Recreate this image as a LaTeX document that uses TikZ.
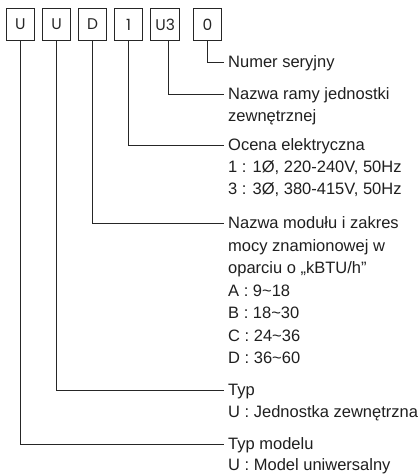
\documentclass[tikz,border=0pt]{standalone}
\usepackage{fontspec}
\setmainfont{Liberation Sans}
\newfontfamily\boxfont{Poppins}
\begin{document}
\begin{tikzpicture}[x=1pt,y=-1pt,
  codebox/.style={draw=black!85, line width=1pt, minimum width=28.5pt, minimum height=32.4pt, inner sep=0pt, font=\boxfont\fontsize{15.5}{16}\selectfont, text=black!85},
  conn/.style={draw=black!85, line width=1pt},
  lbl/.style={anchor=west, inner sep=0pt, text height=11.8pt, text depth=0pt, font=\fontsize{16.5}{20}\selectfont, text=black!88}]
\useasboundingbox (0,0) rectangle (420,474);
% boxes
\node[codebox] (b1) at (20.3,24.5) {U};
\node[codebox] (b2) at (56.5,24.5) {U};
\node[codebox] (b3) at (92.5,24.5) {D};
\node[codebox] (b4) at (128.5,24.5) {1};
\node[codebox] (b5) at (165.2,24.5) {U3};
\node[codebox] (b6) at (207.5,24.5) {0};
% labels
\def\tx{228}
\node[lbl] (t6) at (\tx,62) {Numer seryjny};
\node[lbl] (t5) at (\tx,94) {Nazwa ramy jednostki};
\node[lbl] (t5b) at (\tx,116) {zewnętrznej};
\node[lbl] (t4) at (\tx,145) {Ocena elektryczna};
\node[lbl] (t4b) at (\tx,167) {1 : 1Ø, 220-240V, 50Hz};
\node[lbl] (t4c) at (\tx,189) {3 : 3Ø, 380-415V, 50Hz};
\node[lbl] (t3) at (\tx,223) {Nazwa modułu i zakres};
\node[lbl] (t3b) at (\tx,245.5) {mocy znamionowej w};
\node[lbl] (t3c) at (\tx,268) {oparciu o „kBTU/h”};
\node[lbl] (t3d) at (\tx,290.5) {A : 9\char"7E 18};
\node[lbl] (t3e) at (\tx,313) {B : 18\char"7E 30};
\node[lbl] (t3f) at (\tx,335.5) {C : 24\char"7E 36};
\node[lbl] (t3g) at (\tx,358) {D : 36\char"7E 60};
\node[lbl] (t2) at (\tx,390) {Typ};
\node[lbl] (t2b) at (\tx,411.5) {U : Jednostka zewnętrzna};
\node[lbl] (t1) at (\tx,444) {Typ modelu};
\node[lbl] (t1b) at (\tx,464.5) {U : Model uniwersalny};
% connectors
\draw[conn] (b6.south) |- ([xshift=-4pt]t6.west);
\draw[conn] ([xshift=3pt]b5.south) |- ([xshift=-4pt]t5.west);
\draw[conn] (b4.south) |- ([xshift=-4pt]t4.west);
\draw[conn] (b3.south) |- ([xshift=-4pt]t3.west);
\draw[conn] (b2.south) |- ([xshift=-4pt]t2.west);
\draw[conn] (b1.south) |- ([xshift=-4pt]t1.west);
\end{tikzpicture}
\end{document}
